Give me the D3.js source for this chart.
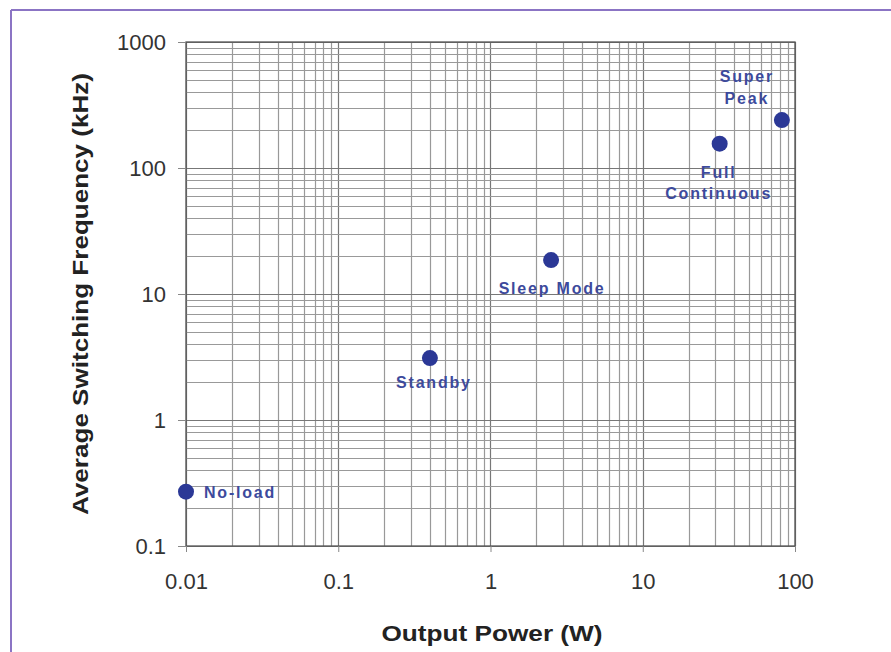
<!DOCTYPE html>
<html>
<head>
<meta charset="utf-8">
<script src="https://cdn.jsdelivr.net/npm/d3@7"></script>
<style>
  body { margin: 0; background: #fff; }
  svg { font-family: "Liberation Sans", Arial, sans-serif; }
</style>
</head>
<body>
<div id="chart"></div>
<script>
// Data
const modes = ["No-load", "Standby", "Sleep Mode", "Full Continuous", "Super Peak"];
const powerW = [0.01, 0.40, 2.5, 32, 82];
const freqKHz = [0.27, 3.1, 18.6, 156, 240];
const xTickValues = [0.01, 0.1, 1, 10, 100];
const yTickValues = [0.1, 1, 10, 100, 1000];

const W = 891, H = 652;
const margin = { top: 42, right: 96, bottom: 106, left: 186 };
const width = W - margin.left - margin.right;
const height = H - margin.top - margin.bottom;

const svgRoot = d3.select("#chart").append("svg")
    .attr("width", W)
    .attr("height", H);

// Purple frame (only left and top edges are visible)
svgRoot.append("line").attr("x1", 11).attr("x2", 11).attr("y1", 10).attr("y2", H)
    .attr("stroke", "#8b74c4").attr("stroke-width", 2);
svgRoot.append("line").attr("x1", 11).attr("x2", W).attr("y1", 10).attr("y2", 10)
    .attr("stroke", "#8b74c4").attr("stroke-width", 2);

const svg = svgRoot.append("g")
    .attr("transform", `translate(${margin.left},${margin.top})`);

const x = d3.scaleLog().domain([0.01, 100]).range([0, width]);
const y = d3.scaleLog().domain([0.1, 1000]).range([height, 0]);

// minor + major grid values (1..9 per decade)
const gridVals = (lo, hi) => {
    const out = [];
    for (let d = lo; d < hi; d *= 10) {
        for (let k = 1; k < 10; k++) out.push(+(d * k).toPrecision(3));
    }
    out.push(hi);
    return out;
};
const xGrid = gridVals(0.01, 100);
const yGrid = gridVals(0.1, 1000);
const isMajor = v => Math.abs(Math.log10(v) - Math.round(Math.log10(v))) < 1e-6;

svg.append("g").selectAll("line")
    .data(xGrid)
    .join("line")
    .attr("x1", d => Math.round(x(d)) + 0.5)
    .attr("x2", d => Math.round(x(d)) + 0.5)
    .attr("y1", 0)
    .attr("y2", height)
    .attr("stroke", d => isMajor(d) ? "#777" : "#999")
    .attr("stroke-width", 1.2);

svg.append("g").selectAll("line")
    .data(yGrid)
    .join("line")
    .attr("x1", 0)
    .attr("x2", width)
    .attr("y1", d => Math.round(y(d)) + 0.5)
    .attr("y2", d => Math.round(y(d)) + 0.5)
    .attr("stroke", d => isMajor(d) ? "#777" : "#999")
    .attr("stroke-width", 1.2);

// Plot frame
svg.append("rect")
    .attr("width", width).attr("height", height)
    .attr("fill", "none").attr("stroke", "#555").attr("stroke-width", 1.3);

// Axes
const xAxis = svg.append("g")
    .attr("transform", `translate(0,${height})`)
    .call(d3.axisBottom(x).tickValues(xTickValues).tickFormat(d3.format("~g")).tickSize(6).tickPadding(21));
const yAxis = svg.append("g")
    .call(d3.axisLeft(y).tickValues(yTickValues).tickFormat(d3.format("~g")).tickSize(8).tickPadding(12));

[xAxis, yAxis].forEach(a => {
    a.select(".domain").remove();
    a.selectAll(".tick line").attr("stroke", "#888");
    a.selectAll("text")
        .style("font-size", "22px")
        .style("fill", "#333");
});

// Axis titles (the source font is wide, so stretch to the measured length)
svg.append("text")
    .attr("x", 492 - margin.left)
    .attr("y", 641 - margin.top)
    .attr("text-anchor", "middle")
    .attr("textLength", 221)
    .attr("lengthAdjust", "spacingAndGlyphs")
    .style("font-size", "22px")
    .style("font-weight", "bold")
    .style("fill", "#222")
    .text("Output Power (W)");

svg.append("text")
    .attr("transform", `translate(${88 - margin.left},${294 - margin.top}) rotate(-90)`)
    .attr("text-anchor", "middle")
    .attr("textLength", 442)
    .attr("lengthAdjust", "spacingAndGlyphs")
    .style("font-size", "22px")
    .style("font-weight", "bold")
    .style("fill", "#222")
    .text("Average Switching Frequency (kHz)");

// Points
const pts = modes.map((m, i) => ({ mode: m, p: powerW[i], f: freqKHz[i] }));

svg.selectAll(".dot")
    .data(pts)
    .join("circle")
    .attr("class", "dot")
    .attr("cx", d => x(d.p))
    .attr("cy", d => y(d.f))
    .attr("r", 8)
    .attr("fill", "#2b3896");

// Labels: offsets relative to each point
const labelLines = [["No-load"], ["Standby"], ["Sleep Mode"], ["Full", "Continuous"], ["Super", "Peak"]];
const labelDx = [18, 4, 1, -1, -35];
const labelDy = [6, 30, 34, 34, -38];
const labelAnchor = ["start", "middle", "middle", "middle", "middle"];

pts.forEach((d, i) => {
    const t = svg.append("text")
        .attr("x", x(d.p) + labelDx[i])
        .attr("y", y(d.f) + labelDy[i])
        .attr("text-anchor", labelAnchor[i])
        .style("font-size", "16px")
        .style("font-weight", "bold")
        .style("letter-spacing", "1.8px")
        .style("fill", "#3d4a9c");
    labelLines[i].forEach((ln, j) => {
        t.append("tspan")
            .attr("x", x(d.p) + labelDx[i])
            .attr("dy", j === 0 ? 0 : 21.5)
            .text(ln);
    });
});
</script>
</body>
</html>
